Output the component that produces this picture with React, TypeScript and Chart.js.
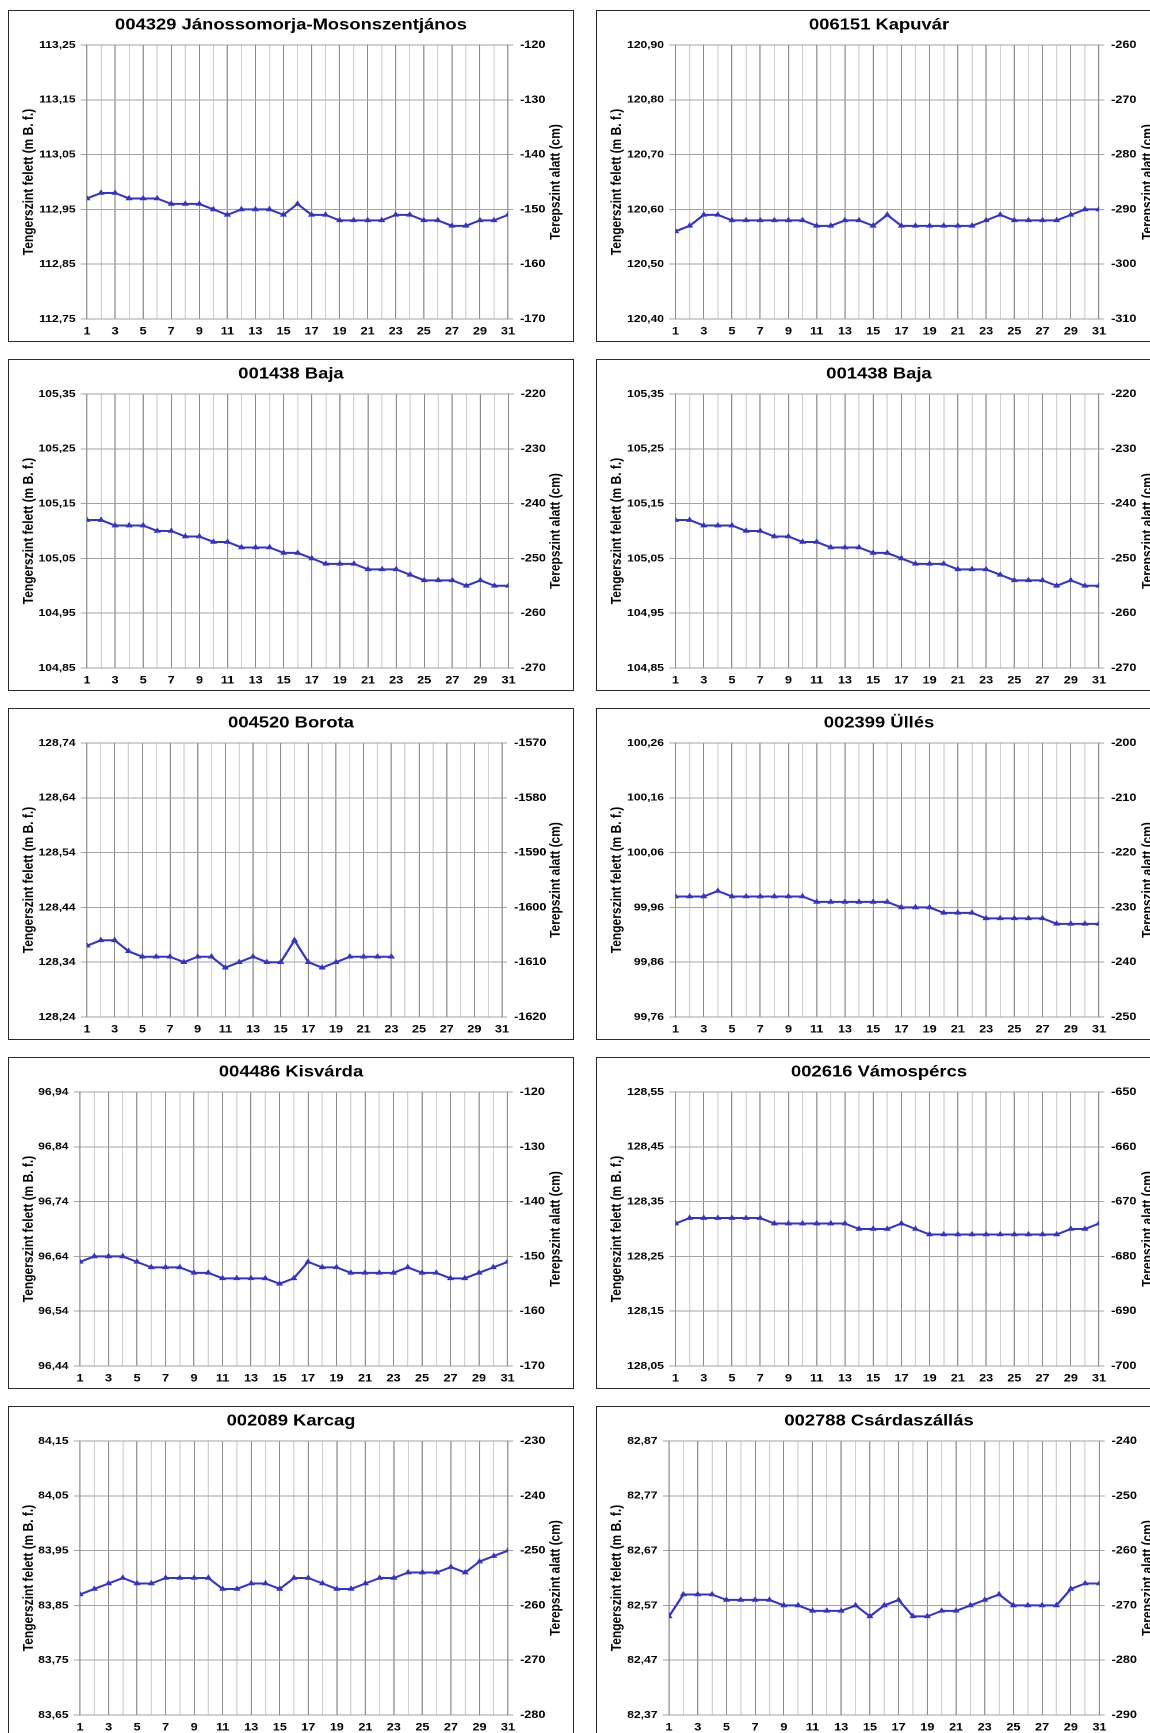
import React, { useEffect, useRef } from "react";
import { Chart, registerables } from "chart.js";

Chart.register(...registerables);

// ---------- data ----------
const days = [1, 2, 3, 4, 5, 6, 7, 8, 9, 10, 11, 12, 13, 14, 15, 16, 17, 18, 19, 20, 21, 22, 23, 24, 25, 26, 27, 28, 29, 30, 31];

const titles = [
  "004329 Jánossomorja-Mosonszentjános",
  "006151 Kapuvár",
  "001438 Baja",
  "001438 Baja",
  "004520 Borota",
  "002399 Üllés",
  "004486 Kisvárda",
  "002616 Vámospércs",
  "002089 Karcag",
  "002788 Csárdaszállás",
];

const janossomorja = [112.97, 112.98, 112.98, 112.97, 112.97, 112.97, 112.96, 112.96, 112.96, 112.95, 112.94, 112.95, 112.95, 112.95, 112.94, 112.96, 112.94, 112.94, 112.93, 112.93, 112.93, 112.93, 112.94, 112.94, 112.93, 112.93, 112.92, 112.92, 112.93, 112.93, 112.94];
const kapuvar = [120.56, 120.57, 120.59, 120.59, 120.58, 120.58, 120.58, 120.58, 120.58, 120.58, 120.57, 120.57, 120.58, 120.58, 120.57, 120.59, 120.57, 120.57, 120.57, 120.57, 120.57, 120.57, 120.58, 120.59, 120.58, 120.58, 120.58, 120.58, 120.59, 120.6, 120.6];
const baja = [105.12, 105.12, 105.11, 105.11, 105.11, 105.1, 105.1, 105.09, 105.09, 105.08, 105.08, 105.07, 105.07, 105.07, 105.06, 105.06, 105.05, 105.04, 105.04, 105.04, 105.03, 105.03, 105.03, 105.02, 105.01, 105.01, 105.01, 105.0, 105.01, 105.0, 105.0];
const borota = [128.37, 128.38, 128.38, 128.36, 128.35, 128.35, 128.35, 128.34, 128.35, 128.35, 128.33, 128.34, 128.35, 128.34, 128.34, 128.38, 128.34, 128.33, 128.34, 128.35, 128.35, 128.35, 128.35];
const ulles = [99.98, 99.98, 99.98, 99.99, 99.98, 99.98, 99.98, 99.98, 99.98, 99.98, 99.97, 99.97, 99.97, 99.97, 99.97, 99.97, 99.96, 99.96, 99.96, 99.95, 99.95, 99.95, 99.94, 99.94, 99.94, 99.94, 99.94, 99.93, 99.93, 99.93, 99.93];
const kisvarda = [96.63, 96.64, 96.64, 96.64, 96.63, 96.62, 96.62, 96.62, 96.61, 96.61, 96.6, 96.6, 96.6, 96.6, 96.59, 96.6, 96.63, 96.62, 96.62, 96.61, 96.61, 96.61, 96.61, 96.62, 96.61, 96.61, 96.6, 96.6, 96.61, 96.62, 96.63];
const vamospercs = [128.31, 128.32, 128.32, 128.32, 128.32, 128.32, 128.32, 128.31, 128.31, 128.31, 128.31, 128.31, 128.31, 128.3, 128.3, 128.3, 128.31, 128.3, 128.29, 128.29, 128.29, 128.29, 128.29, 128.29, 128.29, 128.29, 128.29, 128.29, 128.3, 128.3, 128.31];
const karcag = [83.87, 83.88, 83.89, 83.9, 83.89, 83.89, 83.9, 83.9, 83.9, 83.9, 83.88, 83.88, 83.89, 83.89, 83.88, 83.9, 83.9, 83.89, 83.88, 83.88, 83.89, 83.9, 83.9, 83.91, 83.91, 83.91, 83.92, 83.91, 83.93, 83.94, 83.95];
const csardaszallas = [82.55, 82.59, 82.59, 82.59, 82.58, 82.58, 82.58, 82.58, 82.57, 82.57, 82.56, 82.56, 82.56, 82.57, 82.55, 82.57, 82.58, 82.55, 82.55, 82.56, 82.56, 82.57, 82.58, 82.59, 82.57, 82.57, 82.57, 82.57, 82.6, 82.61, 82.61];

const seriesList = [janossomorja, kapuvar, baja, baja, borota, ulles, kisvarda, vamospercs, karcag, csardaszallas];

// left axis (m B. f.) bottom values, right axis (cm) top values
const leftMins = [112.75, 120.4, 104.85, 104.85, 128.24, 99.76, 96.44, 128.05, 83.65, 82.37];
const rightTops = [-120, -260, -220, -220, -1570, -200, -120, -650, -230, -240];
const leftSpan = 0.5;
const leftStep = 0.1;
const rightSpan = 50;
const rightStep = 10;

const leftTitle = "Tengerszint felett (m B. f.)";
const rightTitle = "Terepszint alatt (cm)";

// ---------- layout ----------
const PW = 566;
const PH = 332;
const CW = 492;
const K = PW / CW;
const colX = [8, 596];
const rowY = [10, 359, 708, 1057, 1406];
const rightTitleX = [548, 552];
const plotLefts = [79, 79.5, 79, 79.5, 79, 79.5, 72, 79.5, 72, 73];
const plotRights = [500, 503, 500.5, 503, 494, 503, 499.5, 503, 500, 503.5];
const PLOT_TOP = 35;
const PLOT_BOTTOM = 309;

const FONT = '"Liberation Sans", Arial, Helvetica, sans-serif';
const LINE_COLOR = "rgb(51,51,204)";
const GRID_H = "#a3a3a3";
const GRID_MAJOR = "#8c8c8c";
const GRID_MINOR = "#d0d0d0";

const decorPlugin = {
  id: "decor",
  afterDraw(chart: any, _args: any, opts: any) {
    const { ctx, chartArea } = chart;
    const midY = (chartArea.top + chartArea.bottom) / 2;
    ctx.save();
    ctx.fillStyle = "#000";
    ctx.textAlign = "center";
    ctx.textBaseline = "middle";
    ctx.font = `bold 16px ${FONT}`;
    ctx.fillText(opts.title, chart.width / 2, 15);
    ctx.font = `bold 12px ${FONT}`;
    ctx.save();
    ctx.translate(opts.leftX, midY);
    ctx.rotate(-Math.PI / 2);
    ctx.fillText(opts.leftText, 0, 0);
    ctx.restore();
    ctx.save();
    ctx.translate(opts.rightX, midY);
    ctx.rotate(-Math.PI / 2);
    ctx.fillText(opts.rightText, 0, 0);
    ctx.restore();
    ctx.restore();
  },
};

function Panel({ idx }: { idx: number }) {
  const ref = useRef<HTMLCanvasElement>(null);
  const col = idx % 2;
  const row = Math.floor(idx / 2);

  useEffect(() => {
    const values = seriesList[idx];
    const lmin = leftMins[idx];
    const rtop = rightTops[idx];
    const plotLeft = plotLefts[idx];
    const plotRight = plotRights[idx];
    const chart = new Chart(ref.current as HTMLCanvasElement, {
      type: "line",
      data: {
        datasets: [
          {
            data: values.map((v, i) => ({ x: days[i], y: v })),
            borderColor: LINE_COLOR,
            backgroundColor: LINE_COLOR,
            borderWidth: 2,
            pointStyle: "triangle",
            pointRadius: 2.6,
            pointBorderWidth: 1,
            pointBackgroundColor: LINE_COLOR,
            pointBorderColor: LINE_COLOR,
            tension: 0,
            yAxisID: "y",
          },
        ],
      },
      options: {
        animation: false,
        responsive: false,
        devicePixelRatio: 2,
        events: [],
        layout: { padding: { top: PLOT_TOP, left: 0, right: 0, bottom: 0 } },
        plugins: {
          legend: { display: false },
          title: { display: false },
          tooltip: { enabled: false },
          decor: {
            title: titles[idx],
            leftText: leftTitle,
            rightText: rightTitle,
            leftX: 21 / K,
            rightX: rightTitleX[col] / K,
          },
        } as any,
        scales: {
          x: {
            type: "linear",
            min: days[0],
            max: days[days.length - 1],
            afterBuildTicks: (scale: any) => {
              scale.ticks = days.map((d) => ({ value: d }));
            },
            afterFit: (scale: any) => {
              scale.height = PH - PLOT_BOTTOM;
            },
            ticks: {
              autoSkip: false,
              maxRotation: 0,
              minRotation: 0,
              padding: 6,
              color: "#000",
              font: { family: FONT, size: 11, weight: "bold" },
              callback: (v: any) => (Number(v) % 2 === 1 ? String(v) : ""),
            },
            grid: {
              drawTicks: false,
              lineWidth: 1,
              color: (c: any) => (c.tick && c.tick.value % 2 === 1 ? GRID_MAJOR : GRID_MINOR),
            },
            border: { color: GRID_H, width: 1 },
          },
          y: {
            type: "linear",
            position: "left",
            min: lmin,
            max: lmin + leftSpan,
            afterBuildTicks: (scale: any) => {
              const t = [];
              for (let i = 0; i <= Math.round(leftSpan / leftStep); i++) t.push({ value: lmin + i * leftStep });
              scale.ticks = t;
            },
            afterFit: (scale: any) => {
              scale.width = plotLeft / K;
            },
            ticks: {
              padding: 4.5,
              color: "#000",
              font: { family: FONT, size: 10.5, weight: "bold" },
              callback: (v: any) => Number(v).toFixed(2).replace(".", ","),
            },
            grid: { color: GRID_H, lineWidth: 1, tickLength: 5.5 },
            border: { color: GRID_MAJOR, width: 1 },
          },
          y2: {
            type: "linear",
            position: "right",
            min: rtop - rightSpan,
            max: rtop,
            afterBuildTicks: (scale: any) => {
              const t = [];
              for (let i = 0; i <= Math.round(rightSpan / rightStep); i++) t.push({ value: rtop - rightSpan + i * rightStep });
              scale.ticks = t;
            },
            afterFit: (scale: any) => {
              scale.width = (PW - plotRight) / K;
            },
            ticks: {
              padding: 6,
              color: "#000",
              font: { family: FONT, size: 11, weight: "bold" },
              callback: (v: any) => String(Math.round(Number(v))),
            },
            grid: { drawOnChartArea: false, color: GRID_H, lineWidth: 1, tickLength: 4.5 },
            border: { color: GRID_MAJOR, width: 1 },
          },
        },
      } as any,
      plugins: [decorPlugin as any],
    });
    return () => chart.destroy();
  }, [idx]);

  return (
    <div style={{ position: "absolute", left: colX[col], top: rowY[row], width: PW, height: PH, background: "#fff" }}>
      <div
        style={{
          position: "absolute",
          left: 0,
          top: 0,
          width: CW,
          height: PH,
          transform: `scaleX(${K})`,
          transformOrigin: "0 0",
        }}
      >
        <canvas ref={ref} width={CW} height={PH} />
      </div>
      <div
        style={{
          position: "absolute",
          left: 0,
          top: 0,
          width: PW,
          height: PH,
          border: "1.5px solid #2a2a2a",
          boxSizing: "border-box",
          pointerEvents: "none",
        }}
      />
    </div>
  );
}

export default function App() {
  return (
    <div
      style={{
        position: "fixed",
        left: 0,
        top: 0,
        width: 1150,
        height: 1733,
        overflow: "hidden",
        background: "#fff",
      }}
    >
      {titles.map((_, i) => (
        <Panel key={i} idx={i} />
      ))}
    </div>
  );
}
